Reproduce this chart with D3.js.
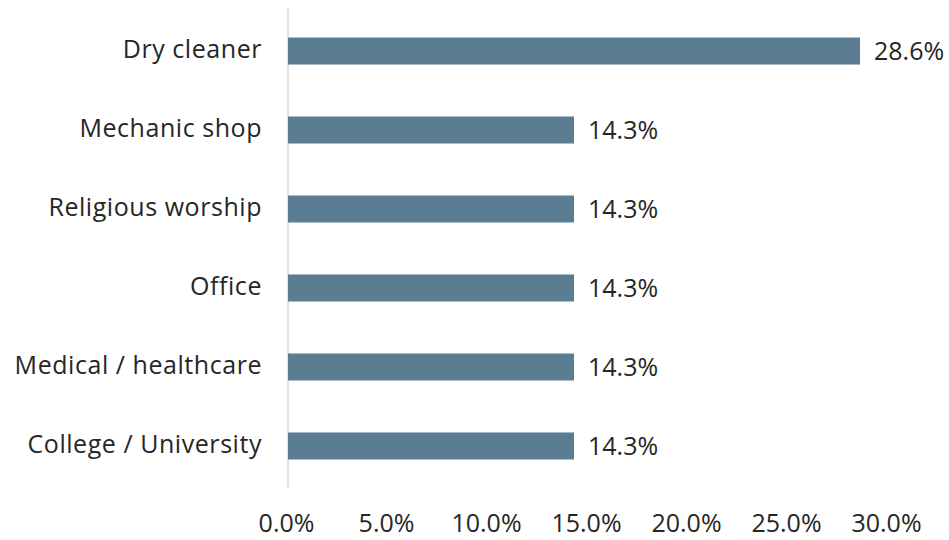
<!DOCTYPE html>
<html>
<head>
<meta charset="utf-8">
<script src="https://cdn.jsdelivr.net/npm/d3@7"></script>
<style>
  html, body { margin: 0; padding: 0; background: #fff; }
  svg { display: block; font-family: "Open Sans", "Liberation Sans", sans-serif; }
</style>
</head>
<body>
<svg id="chart" width="949" height="540"></svg>
<script>
// Share of sites by facility type
const categories = ["Dry cleaner", "Mechanic shop", "Religious worship", "Office", "Medical / healthcare", "College / University"];
const values = [28.6, 14.3, 14.3, 14.3, 14.3, 14.3];
const tickValues = [0, 5, 10, 15, 20, 25, 30];

const svg = d3.select("#chart");
const plotLeft = 288, plotRight = 888, plotTop = 12, plotBottom = 485;

const x = d3.scaleLinear().domain([0, 30]).range([plotLeft, plotRight]);
const y = d3.scaleBand().domain(categories).range([plotTop, plotBottom]).paddingInner(0.658).paddingOuter(0.323);

const fmt = d => d.toFixed(1) + "%";
const textColor = "#262626";
const fontSize = 25;

// vertical category axis line
svg.append("line")
  .attr("x1", plotLeft).attr("x2", plotLeft)
  .attr("y1", 8).attr("y2", 488)
  .attr("stroke", "#d9d9d9").attr("stroke-width", 1.5);

// bars
svg.append("g").selectAll("rect")
  .data(categories)
  .join("rect")
  .attr("x", x(0))
  .attr("y", d => y(d))
  .attr("width", (d, i) => x(values[i]) - x(0))
  .attr("height", y.bandwidth())
  .attr("fill", "#5b7d91");

// value labels
svg.append("g").selectAll("text")
  .data(categories)
  .join("text")
  .attr("x", (d, i) => x(values[i]) + 14)
  .attr("y", d => y(d) + y.bandwidth() / 2)
  .attr("dy", "0.35em")
  .attr("font-size", fontSize)
  .attr("fill", textColor)
  .text((d, i) => fmt(values[i]));

// category labels
const yAxis = d3.axisLeft(y).tickSize(0).tickPadding(26);
svg.append("g")
  .attr("transform", `translate(${plotLeft},-1)`)
  .call(yAxis)
  .call(g => g.select(".domain").remove())
  .call(g => g.selectAll("text")
    .attr("font-size", fontSize)
    .attr("letter-spacing", "0.55px")
    .attr("font-family", "\"Open Sans\", sans-serif")
    .attr("fill", textColor));

// value axis tick labels
const xAxis = d3.axisBottom(x).tickValues(tickValues).tickSize(0).tickPadding(0).tickFormat(fmt);
svg.append("g")
  .attr("transform", "translate(-2,523)")
  .call(xAxis)
  .call(g => g.select(".domain").remove())
  .call(g => g.selectAll("text")
    .attr("dy", "0.35em")
    .attr("font-size", fontSize)
    .attr("font-family", "\"Open Sans\", sans-serif")
    .attr("fill", textColor));
</script>
</body>
</html>
